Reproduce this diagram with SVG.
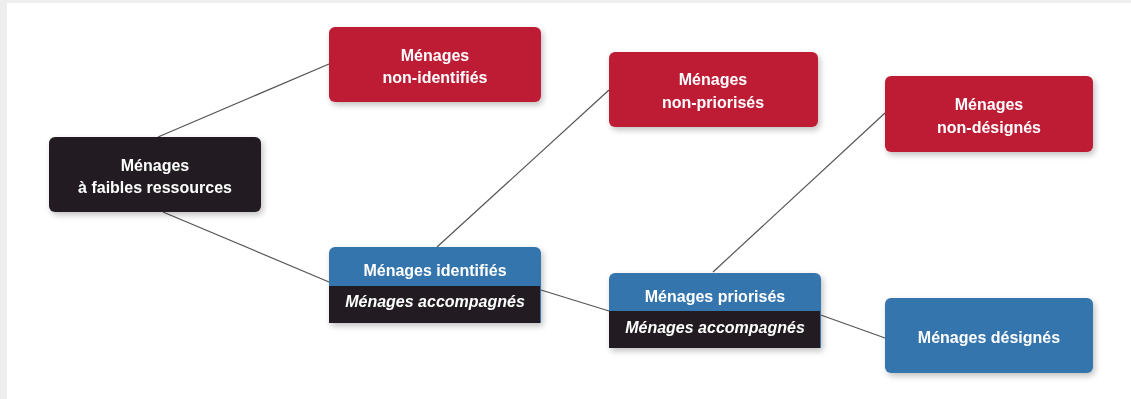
<svg xmlns="http://www.w3.org/2000/svg" width="1131" height="399" viewBox="0 0 1131 399">
<style>
.t{font-family:"Liberation Sans",Arial,sans-serif;font-weight:bold;font-size:16px;fill:#fff;text-anchor:middle}
.i{font-style:italic}
.red{fill:#be1e35}
.blue{fill:#3675ad}
.blk{fill:#231f20}
.c line{stroke:#555;stroke-width:1.2}
</style>
<defs>
<filter id="sh" x="-10%" y="-20%" width="125%" height="150%">
<feGaussianBlur in="SourceAlpha" stdDeviation="3"/>
<feOffset dx="2" dy="3" result="b"/>
<feComponentTransfer><feFuncA type="linear" slope="0.25"/></feComponentTransfer>
<feMerge><feMergeNode/><feMergeNode in="SourceGraphic"/></feMerge>
</filter>
</defs>
<rect width="1131" height="399" fill="#eeeeee"/>
<rect x="7" y="3" width="1124" height="396" fill="#fff"/>
<g class="c" id="connectors">
<line x1="158" y1="137" x2="329" y2="64"/>
<line x1="163" y1="212" x2="329" y2="282"/>
<line x1="437" y1="247" x2="609" y2="90"/>
<line x1="541" y1="290" x2="609" y2="311"/>
<line x1="713" y1="272" x2="885" y2="113"/>
<line x1="818" y1="314" x2="885" y2="338"/>
</g>
<g id="n-faibles" filter="url(#sh)">
<rect class="blk" x="49" y="137" width="212" height="75" rx="6"/>
<text class="t" x="155" y="171">Ménages</text>
<text class="t" x="155" y="193">à faibles ressources</text>
</g>
<g id="n-non-identifies" filter="url(#sh)">
<rect class="red" x="329" y="27" width="212" height="75" rx="6"/>
<text class="t" x="435" y="61">Ménages</text>
<text class="t" x="435" y="83">non-identifiés</text>
</g>
<g id="n-non-priorises" filter="url(#sh)">
<rect class="red" x="609" y="52" width="209" height="75" rx="6"/>
<text class="t" x="713" y="85">Ménages</text>
<text class="t" x="713" y="108">non-priorisés</text>
</g>
<g id="n-non-designes" filter="url(#sh)">
<rect class="red" x="885" y="76" width="208" height="76" rx="6"/>
<text class="t" x="989" y="110">Ménages</text>
<text class="t" x="989" y="133">non-désignés</text>
</g>
<g id="n-designes" filter="url(#sh)">
<rect class="blue" x="885" y="298" width="208" height="75" rx="6"/>
<text class="t" x="989" y="343">Ménages désignés</text>
</g>
<g id="n-identifies" filter="url(#sh)">
<path class="blue" d="M329,323 V253 a6,6 0 0 1 6,-6 H535 a6,6 0 0 1 6,6 V323 Z"/>
<rect class="blk" x="329" y="286" width="211" height="37"/>
<text class="t" x="435" y="276">Ménages identifiés</text>
<text class="t i" x="435" y="307">Ménages accompagnés</text>
</g>
<g id="n-priorises" filter="url(#sh)">
<path class="blue" d="M609,348 V279 a6,6 0 0 1 6,-6 H815 a6,6 0 0 1 6,6 V348 Z"/>
<rect class="blk" x="609" y="311" width="211" height="37"/>
<text class="t" x="715" y="302">Ménages priorisés</text>
<text class="t i" x="715" y="333">Ménages accompagnés</text>
</g>
</svg>
